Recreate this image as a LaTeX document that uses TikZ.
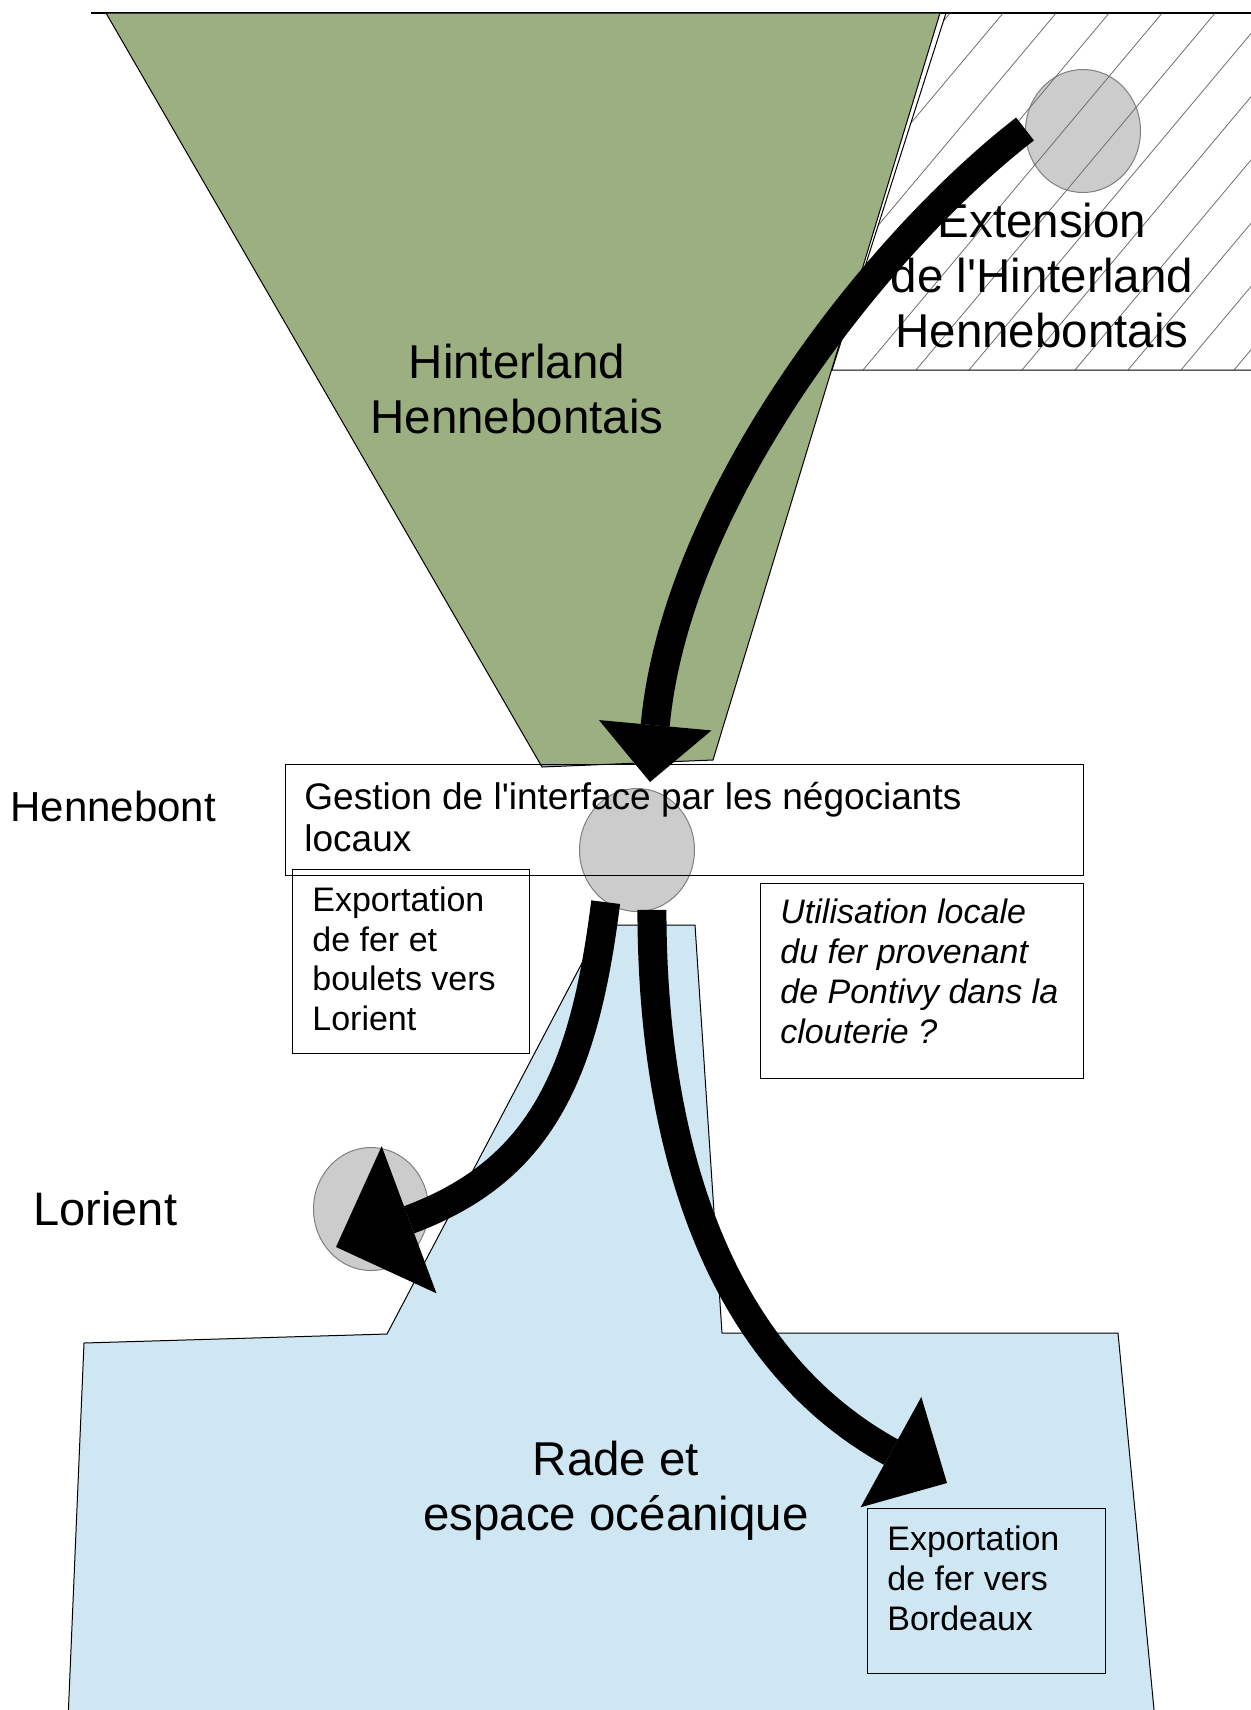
\documentclass[tikz,border=0pt]{standalone}
\usepackage{fontspec}
\setmainfont{Liberation Sans}
\usetikzlibrary{arrows.meta,positioning,shapes.geometric}
\definecolor{HinterGreen}{HTML}{9BAF80}
\definecolor{SeaBlue}{HTML}{CFE6F3}
\definecolor{PortGray}{HTML}{CCCCCC}
\definecolor{PortEdge}{HTML}{7F7F7F}
\definecolor{HatchLine}{HTML}{6E6E6E}

\begin{document}
\begin{tikzpicture}[x=0.5pt,y=-0.5pt,
  area/.style={draw=black,line width=0.5pt},
  hatch/.style={draw=HatchLine,line width=0.4pt},
  port/.style={ellipse,fill=PortGray,draw=PortEdge,line width=0.5pt,minimum width=57.5pt,minimum height=61.5pt,inner sep=0pt},
  frame/.style={rectangle,draw=black,line width=0.5pt,inner sep=0pt,anchor=north west},
  note/.style={inner sep=0pt,align=left,anchor=base west,font=\fontsize{17}{19.75}\selectfont},
  title/.style={inner sep=0pt,align=center,anchor=base,font=\fontsize{23.75}{27.3}\selectfont},
  flow/.style={line width=14.5pt,draw=black}
]
\useasboundingbox (0,0) rectangle (1251,1710);
\draw[line width=0.6pt] (91,13) -- (1260,13);
% extension zone
\node[port] (extc) at (1083,131) {};
\begin{scope}
  \clip (946,13) -- (1260,13) -- (1260,370) -- (832,370) -- cycle;
  \foreach \k in {-9,...,9}
    \draw[hatch] (863+53*\k,370) -- ++(300,-358);
\end{scope}
\draw[area] (946,13) -- (1260,13) -- (1260,370) -- (832,370) -- cycle;
% hinterland
\draw[area,fill=HinterGreen] (106,13) -- (940,13) -- (713,760) -- (542,767) -- cycle;
% rade
\draw[area,fill=SeaBlue] (602,925) -- (695,925) -- (722,1333) -- (1118,1333) -- (1155,1720)
  -- (68,1720) -- (84,1343) -- (387,1334) -- cycle;
\node[port] (henc) at (637,850) {};
\node[port] (lorc) at (371,1209) {};
% boxes
\node[frame,minimum width=399pt,minimum height=55.5pt] (gestbox) at (285,764) {};
\node[frame,minimum width=118.5pt,minimum height=92pt] (lorbox) at (292,869) {};
\node[frame,minimum width=161.5pt,minimum height=97.5pt] (usebox) at (760,883) {};
\node[frame,minimum width=119pt,minimum height=82.5pt] (borbox) at (867,1508) {};
% flows
\coordinate (tiphenn) at (650,782);
\coordinate (tiplor) at (336,1247);
\coordinate (tipbor) at (947,1483);
\draw[flow,-{Triangle[width=56.5pt,length=28.5pt,line width=0pt]}] (extc.178) .. controls (875,245) and (676,500) .. (tiphenn);
\draw[flow,-{Triangle[width=78.5pt,length=39pt,line width=0pt]}] (henc.239) .. controls (584,1076) and (540,1171) .. (tiplor);
\draw[flow,-{Triangle[width=63pt,length=32pt,line width=0pt]}] (henc.284) .. controls (652,1132) and (711,1353) .. (tipbor);
% texts
\node[title] (hintitle) at (517,433) {Hinterland\\Hennebontais};
\node[title] (exttitle) at (1042,347) {Extension\\de l\textquotesingle Hinterland\\Hennebontais};
\node[title] (seatitle) at (616,1530) {Rade et\\espace océanique};
\node[inner sep=0pt,anchor=base west,font=\fontsize{21}{24}\selectfont] (hennlabel) at (10,821) {Hennebont};
\node[inner sep=0pt,anchor=base west,font=\fontsize{23.5}{27}\selectfont] (lorlabel) at (33,1225) {Lorient};
\node[note,font=\fontsize{18.5}{21}\selectfont] (gesttext) at (304,851) {Gestion de l\textquotesingle interface par les négociants\\locaux};
\node[note] (lortext) at (312,1030) {Exportation\\de fer et\\boulets vers\\Lorient};
\node[note,font=\itshape\fontsize{17}{20}\selectfont] (usetext) at (780,1043) {Utilisation locale\\du fer provenant\\de Pontivy dans la\\clouterie ?};
\node[note,font=\fontsize{17}{20}\selectfont] (bortext) at (887,1630) {Exportation\\de fer vers\\Bordeaux};
\end{tikzpicture}
\end{document}
